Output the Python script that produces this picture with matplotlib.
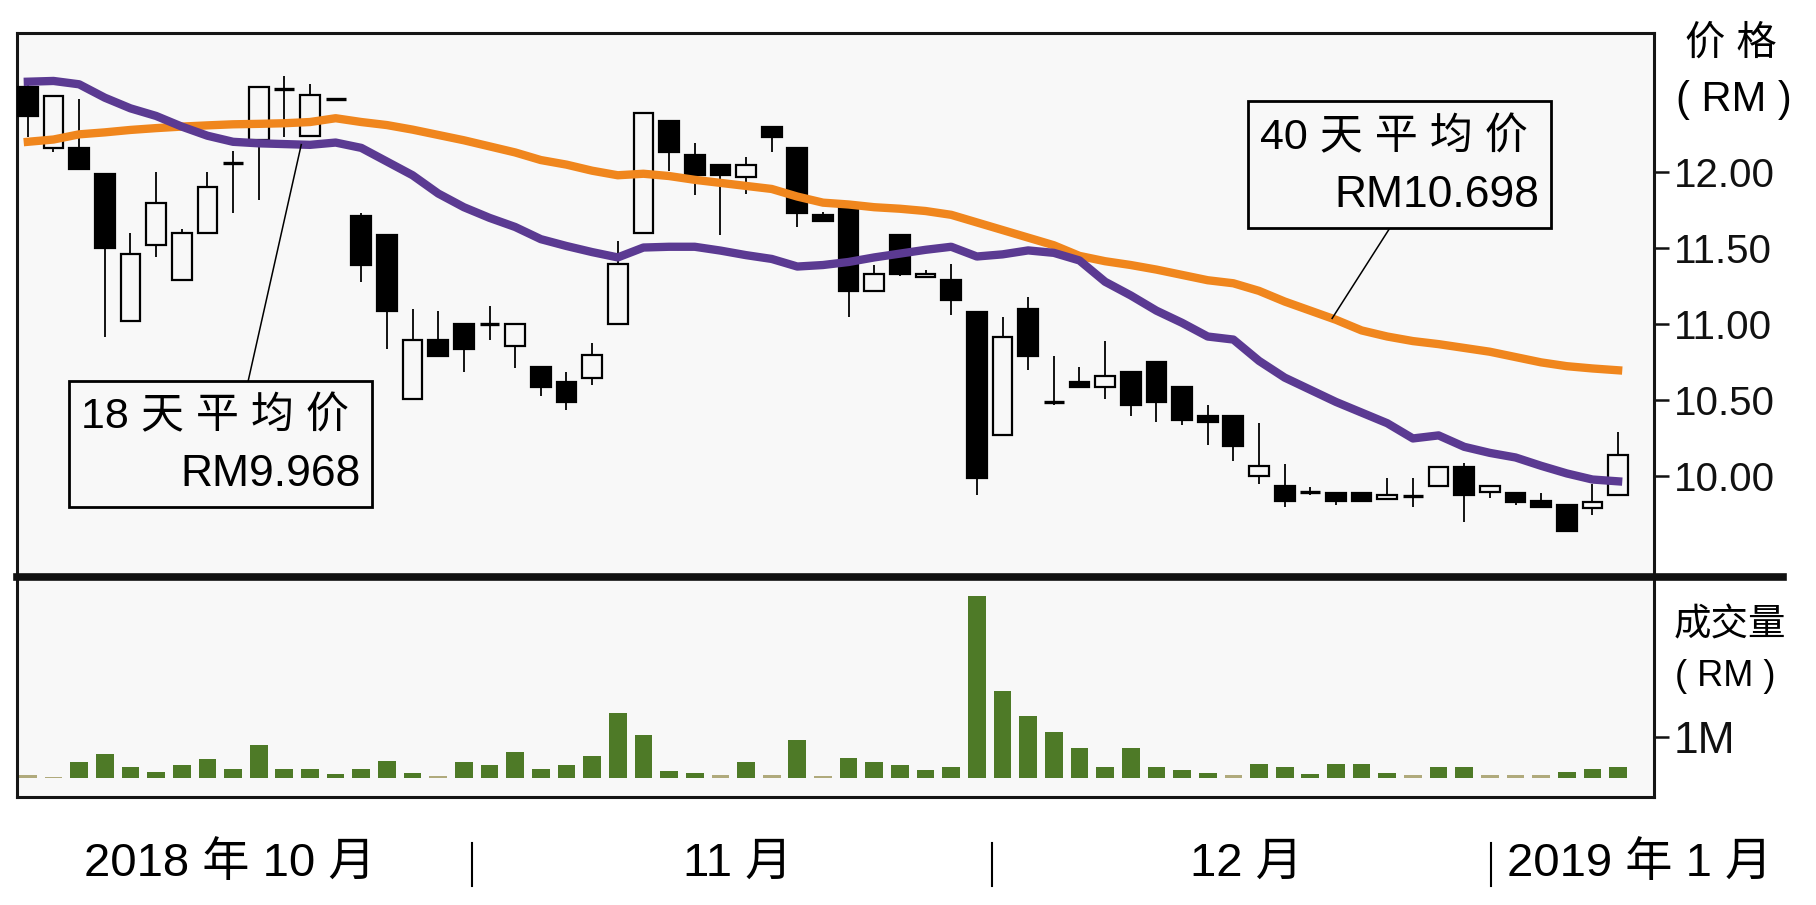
import numpy as np
import matplotlib.pyplot as plt
from matplotlib.patches import Rectangle
from matplotlib.lines import Line2D

plt.rcParams['font.family'] = ['Liberation Sans', 'Noto Sans CJK SC']

# daily candles, RM
opens = [12.56, 12.16, 12.16, 11.99, 11.02, 11.52, 11.29, 11.60, 12.06, 12.21,
         12.55, 12.24, 12.48, 11.71, 11.59, 10.51, 10.90, 11.00, 11.00, 10.86,
         10.72, 10.62, 10.65, 11.00, 11.60, 12.34, 12.11, 12.05, 11.97, 12.30,
         12.16, 11.72, 11.78, 11.22, 11.59, 11.31, 11.29, 11.08, 10.27, 11.10,
         10.49, 10.62, 10.59, 10.69, 10.75, 10.59, 10.40, 10.40, 10.00, 9.94,
         9.90, 9.89, 9.89, 9.85, 9.87, 9.94, 10.06, 9.90, 9.89, 9.84,
         9.81, 9.79, 9.88]
highs = [12.58, 12.50, 12.48, 11.99, 11.60, 12.00, 11.63, 12.00, 12.14, 12.56,
         12.63, 12.58, 12.48, 11.73, 11.59, 11.10, 11.09, 11.00, 11.12, 11.00,
         10.72, 10.69, 10.88, 11.55, 12.39, 12.34, 12.19, 12.05, 12.10, 12.30,
         12.16, 11.74, 11.78, 11.39, 11.59, 11.36, 11.40, 11.08, 11.05, 11.18,
         10.79, 10.72, 10.89, 10.69, 10.75, 10.59, 10.47, 10.40, 10.35, 10.08,
         9.93, 9.89, 9.89, 9.99, 9.99, 10.06, 10.09, 9.94, 9.89, 9.89,
         9.81, 9.95, 10.29]
lows = [12.23, 12.13, 12.02, 10.92, 11.02, 11.44, 11.29, 11.60, 11.73, 11.82,
        12.23, 12.24, 12.48, 11.28, 10.84, 10.51, 10.79, 10.69, 10.90, 10.71,
        10.53, 10.44, 10.60, 11.00, 11.60, 12.01, 11.85, 11.59, 11.86, 12.13,
        11.64, 11.68, 11.05, 11.22, 11.32, 11.31, 11.06, 9.88, 10.27, 10.70,
        10.47, 10.59, 10.51, 10.40, 10.36, 10.34, 10.21, 10.10, 9.95, 9.80,
        9.88, 9.81, 9.84, 9.85, 9.80, 9.94, 9.70, 9.86, 9.81, 9.80,
        9.64, 9.75, 9.88]
closes = [12.37, 12.50, 12.02, 11.50, 11.46, 11.80, 11.60, 11.90, 12.06, 12.56,
          12.55, 12.51, 12.48, 11.39, 11.09, 10.90, 10.79, 10.84, 11.00, 11.00,
          10.59, 10.49, 10.80, 11.40, 12.39, 12.13, 11.98, 11.98, 12.05, 12.23,
          11.73, 11.68, 11.22, 11.33, 11.33, 11.33, 11.16, 9.99, 10.92, 10.79,
          10.49, 10.59, 10.66, 10.47, 10.49, 10.37, 10.36, 10.20, 10.07, 9.84,
          9.90, 9.84, 9.84, 9.88, 9.87, 10.06, 9.88, 9.94, 9.83, 9.80,
          9.64, 9.83, 10.14]

ma18 = [12.595, 12.60, 12.578, 12.49, 12.42, 12.37, 12.30, 12.24, 12.20, 12.19,
        12.185, 12.18, 12.195, 12.16, 12.07, 11.98, 11.86, 11.77, 11.70, 11.64,
        11.56, 11.515, 11.475, 11.44, 11.505, 11.51, 11.51, 11.485, 11.455, 11.43,
        11.38, 11.39, 11.41, 11.44, 11.465, 11.49, 11.51, 11.446, 11.46, 11.486,
        11.47, 11.42, 11.28, 11.19, 11.09, 11.01, 10.92, 10.90, 10.76, 10.65,
        10.57, 10.49, 10.42, 10.35, 10.25, 10.27, 10.195, 10.155, 10.125, 10.07,
        10.02, 9.98, 9.968]
ma40 = [12.20, 12.215, 12.249, 12.262, 12.278, 12.29, 12.30, 12.308, 12.315, 12.318,
        12.322, 12.33, 12.355, 12.33, 12.31, 12.28, 12.245, 12.21, 12.17, 12.13,
        12.08, 12.05, 12.01, 11.98, 11.99, 11.975, 11.95, 11.93, 11.91, 11.89,
        11.84, 11.80, 11.788, 11.77, 11.76, 11.745, 11.72, 11.67, 11.62, 11.57,
        11.52, 11.45, 11.415, 11.39, 11.36, 11.325, 11.29, 11.27, 11.22, 11.15,
        11.09, 11.03, 10.96, 10.92, 10.89, 10.87, 10.845, 10.82, 10.785, 10.75,
        10.725, 10.71, 10.698]

# volume, million RM
volume = [0.06, 0.03, 0.375, 0.58, 0.275, 0.15, 0.31, 0.46, 0.225, 0.81,
          0.225, 0.225, 0.10, 0.225, 0.42, 0.125, 0.04, 0.375, 0.32, 0.625,
          0.21, 0.32, 0.525, 1.58, 1.04, 0.16, 0.125, 0.07, 0.375, 0.08,
          0.93, 0.04, 0.48, 0.375, 0.31, 0.19, 0.275, 4.43, 2.125, 1.5,
          1.11, 0.73, 0.27, 0.73, 0.27, 0.19, 0.11, 0.08, 0.33, 0.27,
          0.10, 0.33, 0.33, 0.125, 0.07, 0.27, 0.27, 0.07, 0.07, 0.07,
          0.15, 0.225, 0.27]

price_ticks = [10.0, 10.5, 11.0, 11.5, 12.0]
months = ['2018 年 10 月', '11 月', '12 月', '2019 年 1 月']
ma18_label = ['18 天 平 均 价', 'RM9.968']
ma40_label = ['40 天 平 均 价', 'RM10.698']

bg = '#f8f8f8'
x = np.arange(len(opens))

fig = plt.figure(figsize=(18.16, 9.05), dpi=100)
ax = fig.add_axes([0.0094, 0.3624, 0.9014, 0.6011])
axv = fig.add_axes([0.0094, 0.1193, 0.9014, 0.2431])

for a in (ax, axv):
    a.set_facecolor(bg)
    for s in a.spines.values():
        s.set_linewidth(2.2)
        s.set_color('#151515')
    a.yaxis.tick_right()
    a.tick_params(axis='y', direction='out', length=11, width=1.8, pad=3,
                  colors='#111111')
    a.tick_params(axis='x', bottom=False, labelbottom=False)
    a.set_xlim(-0.42, 63.4)

# candles
w = 0.77
o = np.array(opens)
c = np.array(closes)
ax.vlines(x, lows, highs, color='k', lw=1.3, zorder=2)
body = c != o
ax.bar(x[body], np.abs(c - o)[body], w, bottom=np.minimum(o, c)[body],
       color=['k' if cc < oo else bg for oo, cc in zip(o[body], c[body])],
       edgecolor='k', lw=1.6, zorder=3)
ax.hlines(o[~body], x[~body] - w / 2, x[~body] + w / 2, color='k', lw=2.4, zorder=3)

ax.plot(x, ma40, color='#f0861d', lw=6, zorder=4)
ax.plot(x, ma18, color='#5b3a92', lw=6, zorder=4)

ax.set_ylim(9.339, 12.915)
ax.set_yticks(price_ticks)
ax.set_yticklabels(['%.2f' % t for t in price_ticks], fontsize=29)

# callout boxes, leader line ends on the moving average
def callout(ax, x0, x1, y0, y1, lines, ma, mx, bx, by):
    ax.plot([mx, bx], [np.interp(mx, x, ma), by], color='k', lw=1.1, zorder=5)
    ax.add_patch(Rectangle((x0, y0), x1 - x0, y1 - y0, facecolor=bg,
                           edgecolor='k', lw=2.0, zorder=6))
    h = y1 - y0
    ax.text(x0 + 0.45, y1 - h * 0.29, lines[0], fontsize=31, ha='left',
            va='center', zorder=7)
    ax.text(x1 - 0.45, y1 - h * 0.74, lines[1], fontsize=32, ha='right',
            va='center', zorder=7)

callout(ax, 1.61, 13.42, 9.80, 10.628, ma18_label, ma18, 10.66, 8.59, 10.628)
callout(ax, 47.57, 59.39, 11.633, 12.468, ma40_label, ma40, 50.85, 53.1, 11.633)

# volume
vcol = ['#b0aa7c' if v < 0.09 else '#4e7a27' for v in volume]
axv.bar(x, volume, 0.69, color=vcol, zorder=2)
axv.set_ylim(-0.47, 4.9)
axv.set_yticks([1])
axv.set_yticklabels(['1M'], fontsize=32)

# heavy divider between panels
fig.add_artist(Line2D([0.0094, 0.9818], [0.3624, 0.3624], color='#111111', lw=5.5))

# axis captions
fig.text(0.9532, 0.952, '价 格', fontsize=29, ha='center', va='center')
fig.text(0.9548, 0.889, '( RM )', fontsize=30, ha='center', va='center')
fig.text(0.9526, 0.3094, '成交量', fontsize=27, ha='center', va='center')
fig.text(0.9500, 0.2520, '( RM )', fontsize=26, ha='center', va='center')

# month labels and separators
fig.text(0.1267, 0.0453, months[0], fontsize=34, ha='center', va='center')
fig.text(0.4064, 0.0453, months[1], fontsize=34, ha='center', va='center')
fig.text(0.6861, 0.0453, months[2], fontsize=34, ha='center', va='center')
fig.text(0.8298, 0.0453, months[3], fontsize=34, ha='left', va='center')
for sx in (0.2599, 0.5463, 0.8210):
    fig.add_artist(Line2D([sx, sx], [0.021, 0.0685], color='k', lw=1.5))

fig.savefig('out.png', dpi=100, facecolor='white')
